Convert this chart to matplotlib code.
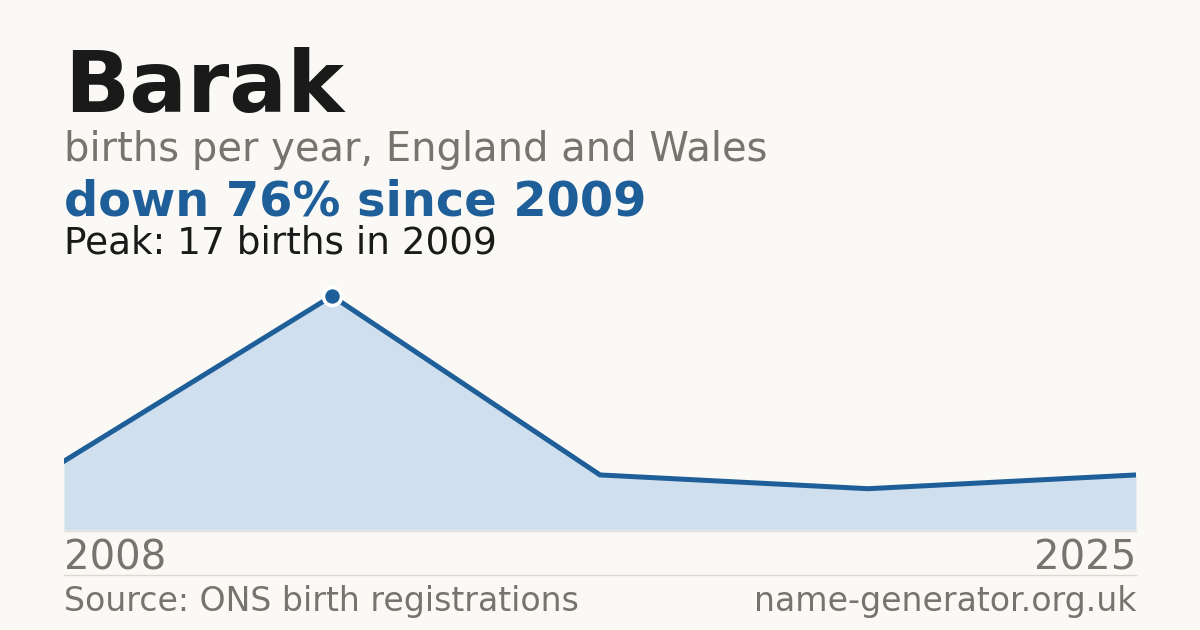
import matplotlib
matplotlib.use("Agg")
import matplotlib.pyplot as plt
from matplotlib.lines import Line2D

# Data
name = "Barak"
years = ["2008", "2009", "", "", "2025"]
births = [5, 17, 4, 3, 4]
peak_year = "2009"
peak_value = 17
change_pct = 76

W, H = 1200, 630
DPI = 100
BG = "#faf9f5"
BLUE = "#1f5f99"
FILL = "#d0dfee"
GREY = "#78736c"
DARK = "#1a1a1a"

fig = plt.figure(figsize=(W / DPI, H / DPI), dpi=DPI, facecolor=BG)

def fx(px):
    return px / W

def fy(py):
    return 1 - py / H

# chart axes: x 64..1136, baseline y=530, top y=280
left, right, base, top = 64, 1136, 530, 280
ax = fig.add_axes([fx(left), fy(base), fx(right - left), (base - top) / H])
ax.set_facecolor(BG)
ax.patch.set_alpha(0)
x = list(range(len(births)))
ax.fill_between(x, births, 0, color=FILL, lw=0, zorder=1)
ax.plot(x, births, color=BLUE, lw=3.6, solid_joinstyle="miter", zorder=2)
pk = births.index(max(births))
ax.plot([x[pk]], [births[pk]], marker="o", ms=13, color=BLUE,
        markeredgecolor="white", markeredgewidth=2.6, zorder=3, clip_on=False)
ax.set_xlim(0, len(births) - 1)
ax.set_ylim(0, peak_value * (base - top) / (base - 296))
ax.axis("off")

# baseline and separator
fig.add_artist(Line2D([fx(left), fx(right)], [fy(530.5), fy(530.5)], color="#e2ded6", lw=1))
fig.add_artist(Line2D([fx(left), fx(right)], [fy(574.5), fy(574.5)], color="#dcd8d0", lw=1))

# texts
fig.text(fx(64), fy(112), name, fontsize=61.7, fontweight="bold", color=DARK, va="baseline", ha="left")
fig.text(fx(64), fy(161), "births per year, England and Wales", fontsize=28.8, color=GREY, va="baseline", ha="left")
fig.text(fx(64), fy(215), f"down {change_pct}% since {peak_year}", fontsize=34.5, fontweight="bold", color=BLUE, va="baseline", ha="left")
fig.text(fx(64), fy(254), f"Peak: {peak_value} births in {peak_year}", fontsize=26.9, color=DARK, va="baseline", ha="left")
fig.text(fx(64), fy(570), years[0], fontsize=28.9, color=GREY, va="baseline", ha="left")
fig.text(fx(1136), fy(570), years[-1], fontsize=28.9, color=GREY, va="baseline", ha="right")
fig.text(fx(64), fy(611), "Source: ONS birth registrations", fontsize=23.9, color=GREY, va="baseline", ha="left")
fig.text(fx(1136), fy(611), "name-generator.org.uk", fontsize=23.9, color=GREY, va="baseline", ha="right")

fig.savefig("out.png", dpi=DPI, facecolor=BG)
